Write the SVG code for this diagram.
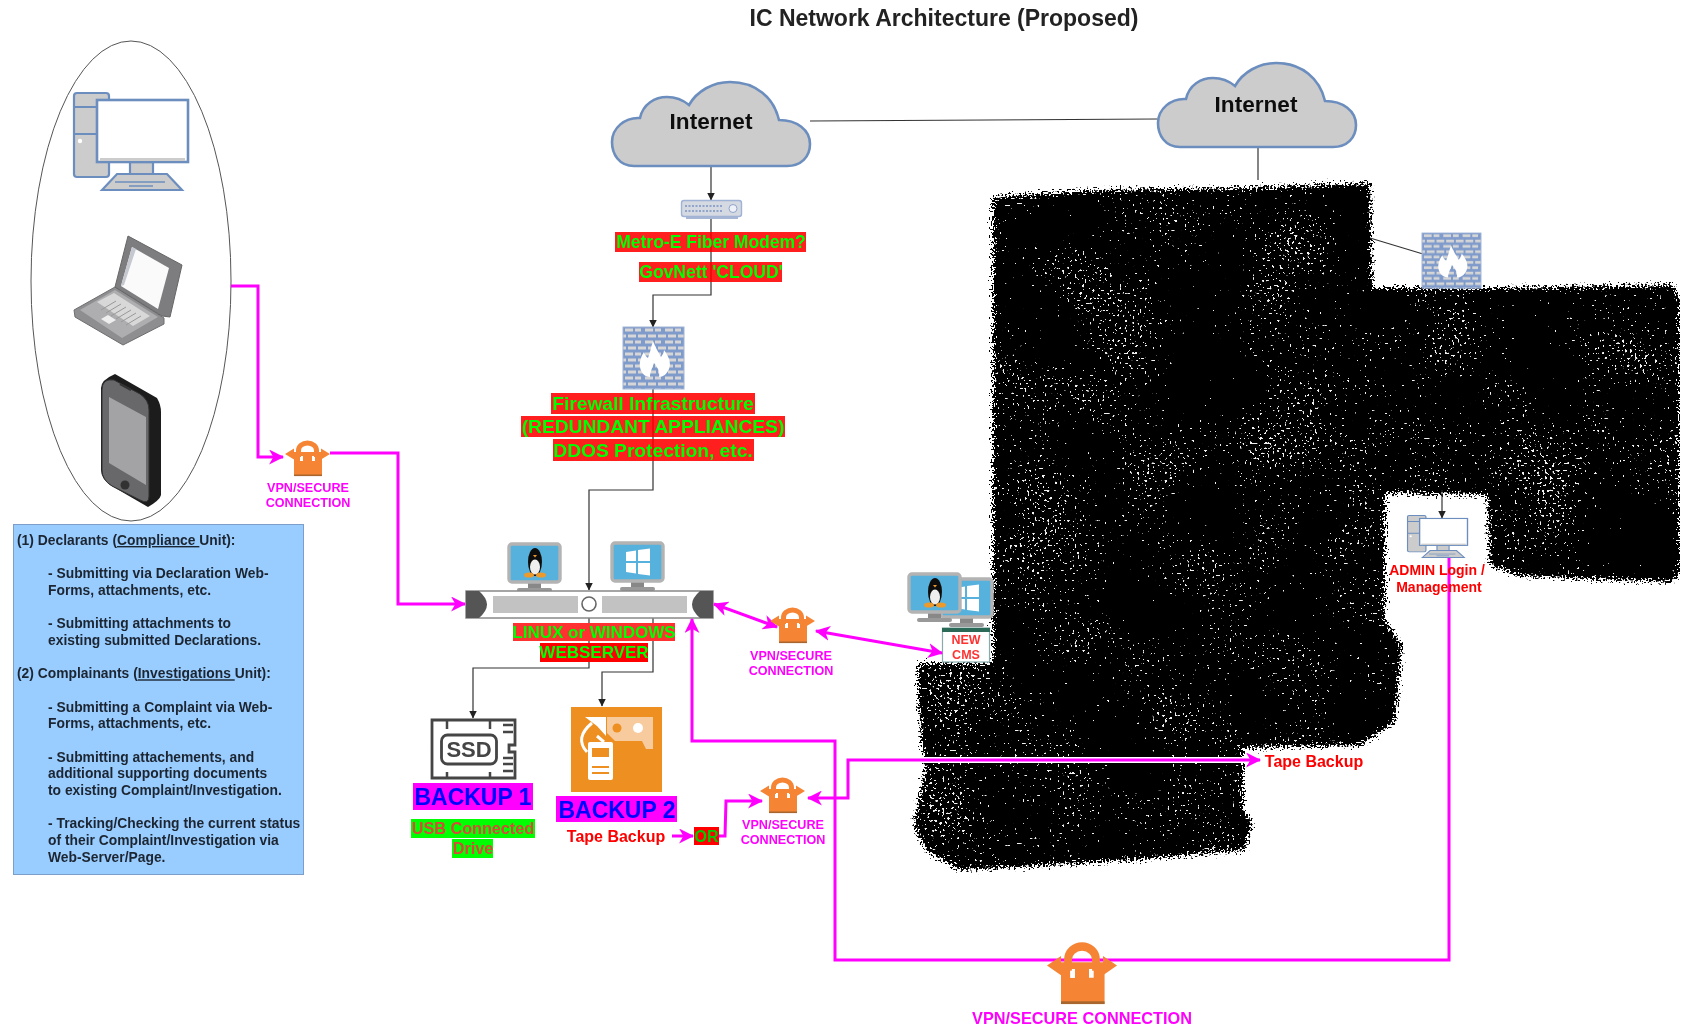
<svg xmlns="http://www.w3.org/2000/svg" xmlns:xlink="http://www.w3.org/1999/xlink" width="1684" height="1029" viewBox="0 0 1684 1029">
<style>
text{font-family:"Liberation Sans",Arial,sans-serif;font-weight:bold;text-anchor:middle}
.lnk{fill:none;stroke:#333;stroke-width:1.2}
.pk{fill:none;stroke:#f0f;stroke-width:3}
.vpn{fill:#f0f;font-size:12.6px}
.gr{fill:#0f0}
.hr{fill:#f00;fill-opacity:.88}
.box{font-size:13.85px;fill:#1c2530;text-anchor:start}
.pc{fill:#ccc;stroke:#6c8ebf;stroke-width:2.2}
.red{fill:#f00}
</style>
<defs>
<filter id="soft" x="0" y="0" width="100%" height="100%"><feGaussianBlur stdDeviation="0.7"/></filter>
<filter id="grain" filterUnits="userSpaceOnUse" x="890" y="160" width="794" height="730" color-interpolation-filters="sRGB">
<feTurbulence type="fractalNoise" baseFrequency="0.55" numOctaves="1" seed="3" result="n"/>
<feDisplacementMap in="SourceGraphic" in2="n" scale="20" xChannelSelector="R" yChannelSelector="G" result="d"/>
<feTurbulence type="fractalNoise" baseFrequency="0.4" numOctaves="1" seed="8"/>
<feColorMatrix values="1 0 0 0 0 1 0 0 0 0 1 0 0 0 0 0 0 0 0 1" result="h"/>
<feTurbulence type="fractalNoise" baseFrequency="0.012" numOctaves="2" seed="21"/>
<feColorMatrix values="1 0 0 0 0 1 0 0 0 0 1 0 0 0 0 0 0 0 0 1" result="l"/>
<feComposite in="h" in2="l" operator="arithmetic" k1="0" k2="1" k3="0.3" k4="0"/>
<feColorMatrix values="0 0 0 0 0.95 0 0 0 0 0.95 0 0 0 0 0.95 40 0 0 0 -34"/>
<feComposite in2="d" operator="in" result="s"/>
<feMerge><feMergeNode in="d"/><feMergeNode in="s"/></feMerge>
</filter>
<marker id="ab" viewBox="0 0 8 8" refX="7.5" refY="4" markerWidth="8" markerHeight="8" markerUnits="userSpaceOnUse" orient="auto"><path d="M0 0L8 4L0 8Z" fill="#222"/></marker>
<marker id="ap" viewBox="0 0 14 14" refX="13" refY="7" markerWidth="15" markerHeight="15" markerUnits="userSpaceOnUse" orient="auto-start-reverse"><path d="M0 0L14 7L0 14L4 7Z" fill="#f0f"/></marker>
<pattern id="br" width="20" height="12" patternUnits="userSpaceOnUse">
<rect width="20" height="12" fill="#7f9bcb"/>
<rect x="2" y="1.500" width="8" height="3" fill="#d6d6d6"/><rect x="12" y="1.500" width="6" height="3" fill="#d6d6d6"/>
<rect x="-3" y="7.500" width="6" height="3" fill="#d6d6d6"/><rect x="5" y="7.500" width="8" height="3" fill="#d6d6d6"/><rect x="15" y="7.500" width="8" height="3" fill="#d6d6d6"/>
</pattern>
<g id="cloudS"><path d="M23 84C8 84 1 72 1 60C1 46 14 35 29 36C32 22 44 15 56 15C64 15 72 18 78 23C86 9 102 0 119 0C145 0 163 16 168 38C186 38 199 48 199 62C199 75 190 84 176 84Z" fill="#ccc" stroke="#6c8ebf" stroke-width="2.6"/></g>
<g id="fw"><rect width="61" height="62" fill="url(#br)" stroke="#9fb3d6"/><path d="M30 14C33 22 36 26 38 30C40 27 41 25 41 23C47 31 48 37 46 42C44 47 40 50 36 50C37 45 35 41 31 36C29 42 27 45 27 50C22 50 18 46 17 40C16 34 19 28 21 25C22 28 23 30 25 31C27 26 28 20 30 14Z" fill="#fff"/></g>
<g id="lock">
<path d="M13.500 16V9.500A9 7.500 0 0 1 31.500 9.500V16" fill="none" stroke="#f58536" stroke-width="5"/>
<path d="M0 13L9 7.500L9 11L36 11L36 7.500L45 13L36 18.500L36 15L9 15L9 18.500Z" fill="#f58536"/>
<path d="M9 15H15V20H18V15H27V20H30V15H37V35H9Z" fill="#f58536"/>
<rect x="15" y="16" width="3" height="4" fill="#fff"/>
<rect x="9" y="33.500" width="28" height="1.600" fill="#a9652e"/>
</g>
<g id="mon">
<rect x="20" y="39" width="13" height="8" fill="#888"/>
<rect x="9" y="45" width="35" height="4" rx="2" fill="#999"/>
<rect x="1" y="1" width="51" height="38" rx="3" fill="#56b1dc" stroke="#b3b3b3" stroke-width="3.400"/>
</g>
<g id="tux">
<ellipse cx="26" cy="18" rx="7" ry="14" fill="#111"/>
<ellipse cx="26" cy="23" rx="5" ry="7.500" fill="#eee"/>
<ellipse cx="20" cy="31" rx="5" ry="2.600" fill="#ee9a2c"/><ellipse cx="32" cy="31" rx="5" ry="2.600" fill="#ee9a2c"/>
<path d="M24 11L28 11L26 13.500Z" fill="#ee9a2c"/>
</g>
<g id="win" fill="#fff">
<path d="M15 9L25 7.500L25 18L15 18Z"/><path d="M27 7L39 5.500L39 18L27 18Z"/><path d="M15 20L25 20L25 30.500L15 29Z"/><path d="M27 20L39 20L39 32.500L27 31Z"/>
</g>
<g id="pcS">
<rect x="1" y="1" width="35" height="84" rx="3" class="pc"/>
<path d="M1 15H25M1 42H25" stroke="#6c8ebf" stroke-width="2" fill="none"/>
<circle cx="7" cy="49" r="2.200" fill="#fff"/>
<rect x="57" y="70" width="23" height="13" class="pc"/>
<path d="M29 98L44 82H94L109 98Z" class="pc"/>
<path d="M42 90H92M56 94H80" stroke="#6c8ebf" stroke-width="1.400"/>
<rect x="24" y="8" width="91" height="62" fill="#fff" stroke="#6c8ebf" stroke-width="2.600"/>
<rect x="27" y="66" width="85" height="3" fill="#ccc"/>
</g>
</defs>
<rect width="1684" height="1029" fill="#fff"/>
<g filter="url(#soft)">
<g id="connectors-thin">
<path class="lnk" d="M810 121L1157 119"/>
<path class="lnk" d="M1258 147V180"/>
<path class="lnk" d="M711 166V200" marker-end="url(#ab)"/>
<path class="lnk" d="M711 218V295H653V327" marker-end="url(#ab)"/>
<path class="lnk" d="M653 388V490H589V590" marker-end="url(#ab)"/>
<path class="lnk" d="M589 618V668H473V718" marker-end="url(#ab)"/>
<path class="lnk" d="M653 618V672H602V706" marker-end="url(#ab)"/>
</g>

<g id="redacted"><path filter="url(#grain)" fill="#000" d="M993 197L1100 190L1250 188L1370 183L1372 288L1500 288L1673 285L1680 300L1680 575L1670 582L1520 576L1490 565L1487 495L1385 493L1385 620L1402 645L1395 722L1360 745L1243 748L1243 810L1252 822L1245 850L1130 860L1000 868L960 870L925 850L914 823L925 770L918 700L918 663L993 663Z"/></g>
<path class="lnk" d="M1370 238L1423 254"/>
<path class="lnk" d="M1442 490V518" marker-end="url(#ab)"/>

<g id="users">
<ellipse cx="131" cy="281" rx="100" ry="240" fill="#fff" stroke="#555" stroke-width="1"/>
<use xlink:href="#pcS" href="#pcS" transform="translate(73,92)"/>
<g id="laptop">
<path d="M74 310L115 287L164 318L164 324L123 345L75 317Z" fill="#8e8e90" stroke="#6e6e70"/>
<path d="M80 310L115 290L158 317L122 338Z" fill="#aeaeb0"/>
<path d="M97 302L114 293L150 316L133 326Z" fill="#d8d8d8"/>
<path d="M101 310L116 301M106 313L121 304M111 316L126 307M116 319L131 310M121 322L136 313M126 325L141 316" stroke="#999" stroke-width="1"/>
<path d="M101 319L108 315L116 320L109 324Z" fill="#eee"/>
<path d="M128 236L182 265L170 317L162 316L115 287Z" fill="#7d7d80" stroke="#666"/>
<path d="M132 247L169 268L158 309L121 286Z" fill="#fafafa"/>
<path d="M132 247L136 249L124 285L121 286Z" fill="#c5c8cf"/>
</g>
<g id="phone">
<path d="M115 374L157 398Q161 405 161 412L161 495Q160 500 148 507L110 485Q101 478 101 470L101 388Q101 380 115 374Z" fill="#1e1c1d"/>
<path d="M102 390Q102 378 114 380L140 394Q149 400 149 410L149 496Q149 505 140 500L112 486Q102 480 102 470Z" fill="#67676a" stroke="#333"/>
<path d="M109 397L146 417V485L109 463Z" fill="#a3a3a6"/>
<path d="M120 384L131 390" stroke="#333" stroke-width="2"/>
<circle cx="125" cy="485" r="4.500" fill="#333"/>
</g>
</g>

<g id="info-box">
<rect x="13.500" y="524.500" width="290" height="350" fill="#9cf" stroke="#7d9ec8"/>
<text class="box" x="17" y="545">(1) Declarants (<tspan text-decoration="underline">Compliance </tspan>Unit):</text>
<text class="box" x="48" y="578.300">- Submitting via Declaration Web-</text>
<text class="box" x="48" y="595">Forms, attachments, etc.</text>
<text class="box" x="48" y="628.300">- Submitting attachments to</text>
<text class="box" x="48" y="645">existing submitted Declarations.</text>
<text class="box" x="17" y="678.300">(2) Complainants (<tspan text-decoration="underline">Investigations </tspan>Unit):</text>
<text class="box" x="48" y="711.700">- Submitting a Complaint via Web-</text>
<text class="box" x="48" y="728.400">Forms, attachments, etc.</text>
<text class="box" x="48" y="761.700">- Submitting attachements, and</text>
<text class="box" x="48" y="778.400">additional supporting documents</text>
<text class="box" x="48" y="795">to existing Complaint/Investigation.</text>
<text class="box" x="48" y="828.400">- Tracking/Checking the current status</text>
<text class="box" x="48" y="845">of their Complaint/Investigation via</text>
<text class="box" x="48" y="861.700">Web-Server/Page.</text>
</g>

<text id="title" x="944" y="26" style="font-size:23px;fill:#222">IC Network Architecture (Proposed)</text>

<g id="internet-1"><use xlink:href="#cloudS" href="#cloudS" transform="translate(611,82)"/><text x="711" y="129" style="font-size:22.600px;fill:#111">Internet</text></g>
<g id="internet-2"><use xlink:href="#cloudS" href="#cloudS" transform="translate(1157,63)"/><text x="1256" y="112" style="font-size:22.600px;fill:#111">Internet</text></g>

<g id="modem">
<rect x="681.500" y="200.500" width="60" height="16" rx="2.500" fill="#d5d9e2" stroke="#9fb3d6" stroke-width="1.400"/>
<rect x="686" y="216.500" width="52" height="2.500" fill="#a5b5d3"/>
<path d="M685 206H722M685 211H722" stroke="#8fa4c8" stroke-width="1.800" stroke-dasharray="2 1.500"/>
<circle cx="733" cy="208.500" r="4" fill="#eef1f7" stroke="#8fa4c8"/>
</g>
<g id="metro"><rect class="hr" x="615" y="232" width="191" height="20"/><text class="gr" x="711" y="248" style="font-size:17.500px">Metro-E Fiber Modem?</text></g>
<g id="govnett"><rect class="hr" x="639" y="262" width="143" height="20"/><text class="gr" x="711" y="278" style="font-size:17.500px">GovNett 'CLOUD'</text></g>

<g id="firewall-1"><use xlink:href="#fw" href="#fw" transform="translate(623,327)"/></g>
<g id="firewall-1-label">
<rect class="hr" x="551" y="393" width="204" height="21"/><text class="gr" x="653" y="410" style="font-size:19.200px">Firewall Infrastructure</text>
<rect class="hr" x="521" y="416" width="264" height="21"/><text class="gr" x="653" y="433" style="font-size:19.200px">(REDUNDANT APPLIANCES)</text>
<rect class="hr" x="553" y="439" width="201" height="22"/><text class="gr" x="653" y="457" style="font-size:19.200px">DDOS Protection, etc.</text>
</g>

<g id="webserver">
<use xlink:href="#mon" href="#mon" transform="translate(508,543)"/><use xlink:href="#tux" href="#tux" transform="translate(509,544)"/>
<use xlink:href="#mon" href="#mon" transform="translate(611,542)"/><use xlink:href="#win" href="#win" transform="translate(611,543)"/>
<rect x="466" y="591" width="247" height="27" fill="#fff" stroke="#888" stroke-width="1.500"/>
<path d="M466 591H479Q487 598 487 604.500Q487 611 479 618H466Z" fill="#555"/>
<path d="M713 591H700Q692 598 692 604.500Q692 611 700 618H713Z" fill="#555"/>
<rect x="493" y="596" width="85" height="17" fill="#c2c2c2"/>
<rect x="602" y="596" width="85" height="17" fill="#c2c2c2"/>
<circle cx="589" cy="604" r="7" fill="#fff" stroke="#666" stroke-width="1.600"/>
</g>
<g id="webserver-label">
<rect x="513" y="623" width="162" height="18" fill="#f33"/><text class="gr" x="594" y="638" style="font-size:17px">LINUX or WINDOWS</text>
<rect x="540" y="643" width="108" height="19" fill="#f00"/><text class="gr" x="594" y="658" style="font-size:17px">WEBSERVER</text>
</g>

<g id="backup-1">
<path d="M432 720H515V745H509V752H515V778H432Z" fill="#fff" stroke="#444" stroke-width="2.800"/>
<path d="M447 720V729M490 720V729M447 772V778M490 772V778M503 725H513M503 732H513M503 758H513M503 764H513M503 771H513" stroke="#444" stroke-width="2.500"/>
<rect x="441.500" y="735" width="55" height="29" rx="6" fill="#fff" stroke="#444" stroke-width="2.800"/>
<text x="469" y="757" style="font-size:22px;fill:#444">SSD</text>
<rect x="413" y="783" width="120" height="27" fill="#f0f"/><text x="473" y="805" style="font-size:23px;fill:#00f">BACKUP 1</text>
<rect x="411" y="819" width="124" height="19" fill="#0f0"/><text x="473" y="834" style="font-size:16.200px;fill:#d8483a">USB Connected</text>
<rect x="452" y="839" width="41" height="19" fill="#0f0"/><text x="473" y="854" style="font-size:16.200px;fill:#d8483a">Drive</text>
</g>

<g id="backup-2">
<rect x="571" y="707" width="91" height="85" fill="#ee8f23"/>
<path d="M607 717H653V749H646L642 741H615L607 733Z" fill="#f7cb9e"/>
<circle cx="617" cy="728" r="4.500" fill="#ee8f23"/><circle cx="638" cy="728" r="5" fill="#fff"/>
<rect x="588" y="742" width="25" height="38" rx="2" fill="#fff"/>
<rect x="592" y="748" width="17" height="9" fill="#ee8f23"/>
<path d="M592 767H609M592 773H609" stroke="#ee8f23" stroke-width="1.800"/>
<path d="M587 752Q574 738 592 723M597 736L604 742" fill="none" stroke="#fff" stroke-width="3"/>
<path d="M585 717H606V736L597 726Z" fill="#fff"/>
<rect x="556" y="796" width="121" height="26" fill="#f0f"/><text x="617" y="818" style="font-size:23px;fill:#00f">BACKUP 2</text>
<text class="red" x="616" y="842" style="font-size:16px">Tape Backup</text>
<rect x="694" y="827" width="25" height="18" fill="#f00"/><text class="gr" x="706.500" y="842" style="font-size:16px;fill:#0c0">OR</text>
</g>

<g id="cms">
<use xlink:href="#mon" href="#mon" transform="translate(940,578)"/><use xlink:href="#win" href="#win" transform="translate(940,579)"/>
<use xlink:href="#mon" href="#mon" transform="translate(908,573)"/><use xlink:href="#tux" href="#tux" transform="translate(909,574)"/>
<rect x="942.500" y="628" width="47" height="34" fill="#fff" stroke="#8aa" stroke-width="1.200"/>
<rect x="942" y="628" width="48" height="4" fill="#2c6b56"/>
<text x="966" y="644" style="font-size:12.500px;fill:#f33">NEW</text>
<text x="966" y="659" style="font-size:12.500px;fill:#f33">CMS</text>
</g>

<g id="firewall-2"><use xlink:href="#fw" href="#fw" transform="translate(1422,233) scale(0.967,0.89)"/></g>

<g id="connectors">
<path class="pk" d="M231 286H258V457H283" marker-end="url(#ap)"/>
<path class="pk" d="M330 453H398V604H465" marker-end="url(#ap)"/>
<path class="pk" d="M714 604L777 627" marker-start="url(#ap)" marker-end="url(#ap)"/>
<path class="pk" d="M816 631L942 653" marker-start="url(#ap)" marker-end="url(#ap)"/>
<path class="pk" d="M1449 558V960H835V741H692V619" marker-end="url(#ap)"/>
<path d="M848 760H1250" fill="none" stroke="#fff" stroke-width="6"/>
<path class="pk" d="M808 798H848V760H1260" marker-start="url(#ap)" marker-end="url(#ap)"/>
<path class="pk" d="M672 836H693" marker-end="url(#ap)"/>
<path class="pk" d="M719 836H725L726 801H762" marker-end="url(#ap)"/>
</g>

<g id="vpn-1"><use xlink:href="#lock" href="#lock" transform="translate(285,441)"/><text class="vpn" x="308" y="492">VPN/SECURE</text><text class="vpn" x="308" y="507">CONNECTION</text></g>
<g id="vpn-2"><use xlink:href="#lock" href="#lock" transform="translate(770,608)"/><text class="vpn" x="791" y="660">VPN/SECURE</text><text class="vpn" x="791" y="675">CONNECTION</text></g>
<g id="vpn-3"><use xlink:href="#lock" href="#lock" transform="translate(760,778)"/><text class="vpn" x="783" y="829">VPN/SECURE</text><text class="vpn" x="783" y="844">CONNECTION</text></g>
<g id="vpn-4"><use xlink:href="#lock" href="#lock" transform="translate(1047,943) scale(1.556,1.74)"/><text x="1082" y="1024" style="font-size:16.300px;fill:#f0f">VPN/SECURE CONNECTION</text></g>

<text id="tape-backup" class="red" x="1314" y="767" style="font-size:16px">Tape Backup</text>

<g id="admin">
<use xlink:href="#pcS" href="#pcS" transform="translate(1407,515) scale(0.526,0.434)"/>
<text class="red" x="1437" y="575" style="font-size:14px">ADMIN Login /</text>
<text class="red" x="1439" y="592" style="font-size:14px">Management</text>
</g>
</g>
</svg>
